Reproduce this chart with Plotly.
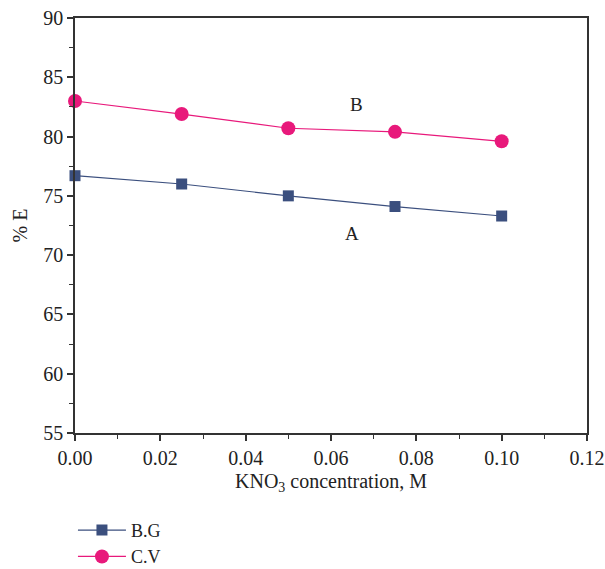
import plotly.graph_objects as go

# KNO3 concentration (M) and extraction percentage for each dye
conc = [0.0, 0.025, 0.05, 0.075, 0.1]
bg_e = [76.7, 76.0, 75.0, 74.1, 73.3]
cv_e = [83.0, 81.9, 80.7, 80.4, 79.6]

blue = "#3B4F7E"
pink = "#E8197B"
font_family = "Liberation Serif, Times New Roman, serif"
text_color = "#222"

fig = go.Figure()
fig.add_trace(go.Scatter(
    x=conc, y=bg_e, name="B.G", mode="lines+markers",
    line=dict(color=blue, width=1.2),
    marker=dict(symbol="square", size=11, color=blue),
    cliponaxis=False,
))
fig.add_trace(go.Scatter(
    x=conc, y=cv_e, name="C.V", mode="lines+markers",
    line=dict(color=pink, width=1.2),
    marker=dict(symbol="circle", size=14, color=pink),
    cliponaxis=False,
))

fig.add_annotation(x=0.066, y=82.7, text="B", showarrow=False,
                   font=dict(size=19, color=text_color, family=font_family))
fig.add_annotation(x=0.065, y=71.8, text="A", showarrow=False,
                   font=dict(size=19, color=text_color, family=font_family))

axis_common = dict(
    showline=True, linecolor="#333", linewidth=1.5, mirror=True,
    showgrid=False, zeroline=False, ticks="outside", ticklen=6,
    tickwidth=1.5, tickcolor="#333",
    tickfont=dict(size=20, color=text_color, family=font_family),
)

fig.update_xaxes(
    range=[0, 0.12], dtick=0.02, tickformat=".2f",
    minor=dict(dtick=0.01, ticks="outside", ticklen=4, tickcolor="#333", tickwidth=1.2),
    title=dict(text="KNO<sub>3</sub> concentration, M", standoff=6,
               font=dict(size=20, color=text_color, family=font_family)),
    **axis_common,
)
fig.update_yaxes(
    range=[55, 90], dtick=5,
    minor=dict(dtick=2.5, ticks="outside", ticklen=4, tickcolor="#333", tickwidth=1.2),
    title=dict(text="% E", standoff=10,
               font=dict(size=20, color=text_color, family=font_family)),
    **axis_common,
)

fig.update_layout(
    width=605, height=569,
    margin=dict(l=75, r=18, t=18, b=136, autoexpand=False),
    plot_bgcolor="white", paper_bgcolor="white",
    showlegend=True,
    legend=dict(x=-0.004, y=-0.19, xanchor="left", yanchor="top",
                orientation="v", itemwidth=48, tracegroupgap=0,
                font=dict(size=18, color=text_color, family=font_family),
                bgcolor="rgba(0,0,0,0)"),
)

fig.write_html("out.html")
